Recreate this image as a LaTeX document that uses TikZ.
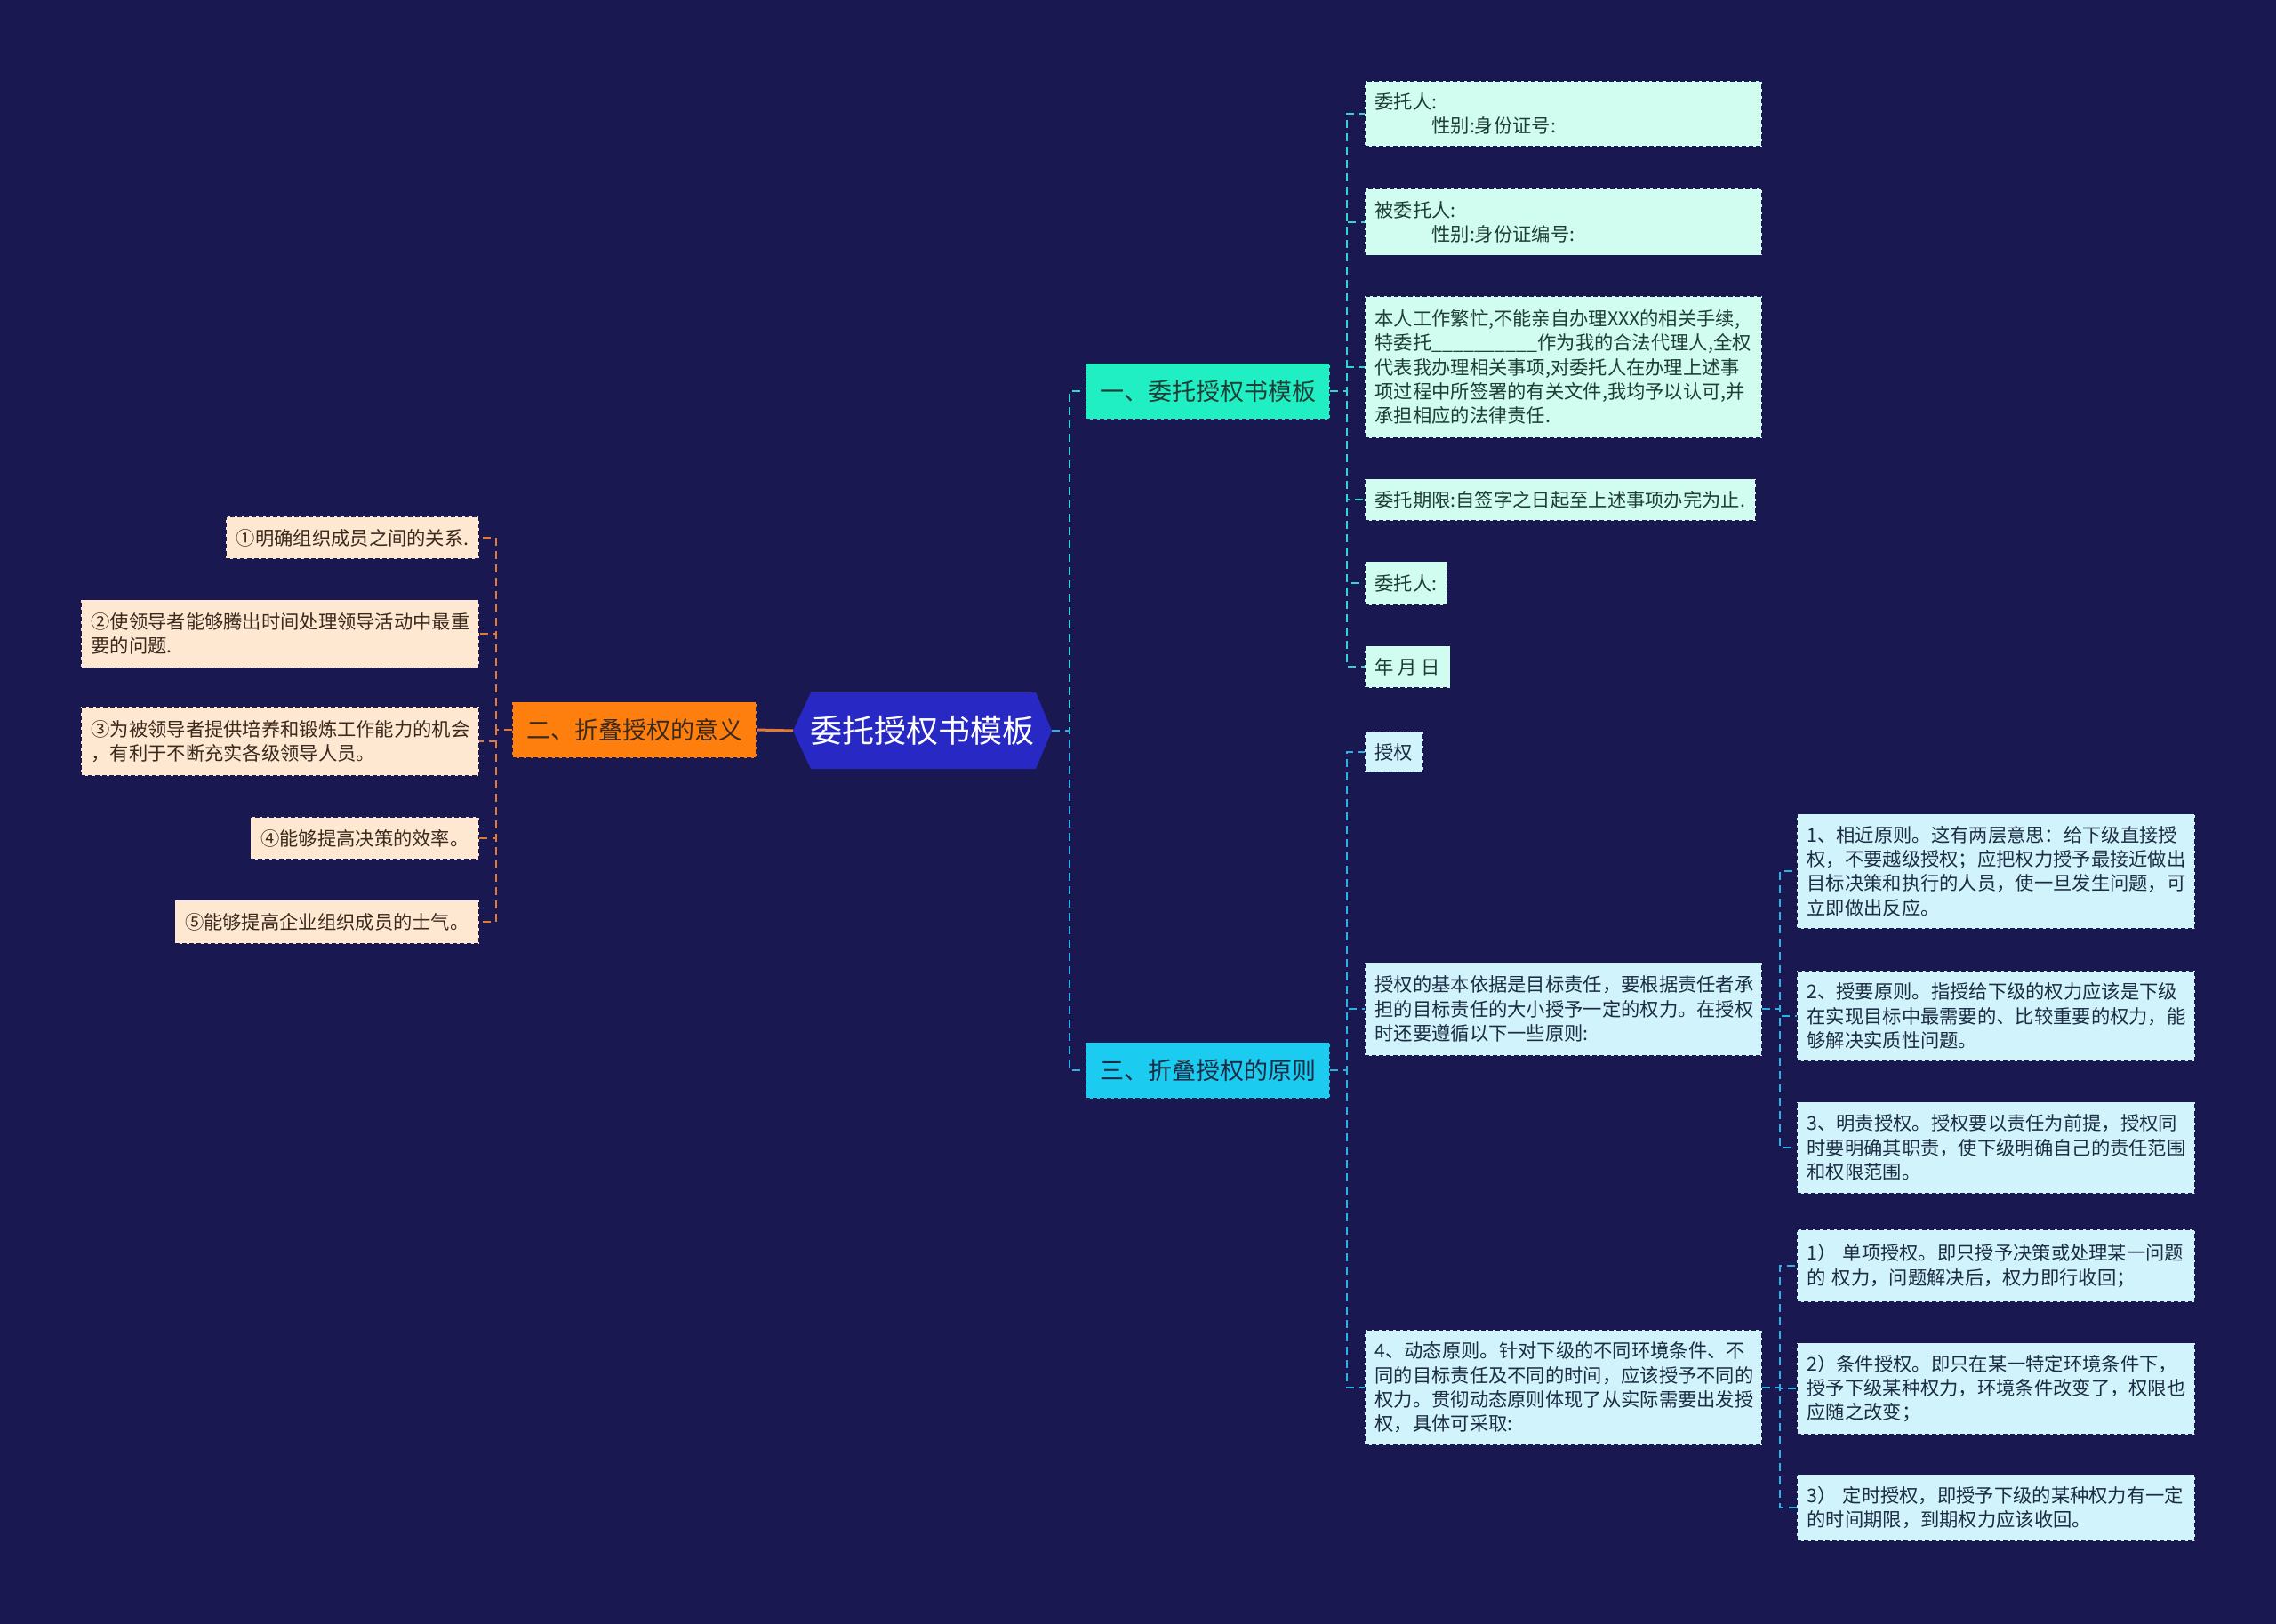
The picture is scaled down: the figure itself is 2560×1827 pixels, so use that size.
\documentclass[tikz,border=0pt]{standalone}
\usepackage{fontspec}
\setmainfont{Noto Sans CJK SC}
\pgfdeclarelayer{back}
\pgfsetlayers{back,main}
\definecolor{bgc}{HTML}{1A1850}
\definecolor{rootc}{HTML}{2828C4}
\definecolor{brA}{HTML}{1FEFC3}
\definecolor{brB}{HTML}{1BCBF0}
\definecolor{brC}{HTML}{FF7F0E}
\definecolor{lfA}{HTML}{D0FDF0}
\definecolor{lfB}{HTML}{D1F4FC}
\definecolor{lfC}{HTML}{FFE8D2}
\definecolor{lnA}{HTML}{33D6CC}
\definecolor{lnB}{HTML}{2AB4E6}
\definecolor{lnC}{HTML}{E27A32}
\definecolor{txA}{HTML}{1F3D36}
\definecolor{txB}{HTML}{1C2C44}
\definecolor{txC}{HTML}{3A2A1E}
\begin{document}
\begin{tikzpicture}[x=1pt,y=-1pt,
  every node/.style={inner sep=0pt, outer sep=0pt},
  box/.style={rectangle, inner xsep=11.5pt, inner ysep=5pt, align=left,
    draw=bgc, line width=1.3pt, dash pattern=on 5pt off 3pt,
    font=\fontsize{21.3}{27.3}\selectfont},
  leafA/.style={box, fill=lfA, text=txA},
  leafB/.style={box, fill=lfB, text=txB},
  leafC/.style={box, fill=lfC, text=txC},
  branch/.style={rectangle, draw=bgc, line width=1.3pt, dash pattern=on 5pt off 3pt,
    minimum width=275pt, minimum height=63pt, font=\fontsize{27}{32}\selectfont},
  branchA/.style={branch, fill=brA, text=txA},
  branchB/.style={branch, fill=brB, text=txB},
  branchC/.style={branch, fill=brC, text=txC},
  rootnode/.style={rectangle, minimum width=291pt, minimum height=86pt,
    font=\fontsize{36}{40}\selectfont, text=white},
  conn/.style={line width=2.5pt, dash pattern=on 9pt off 6pt},
  connA/.style={conn, draw=lnA},
  connB/.style={conn, draw=lnB},
  connC/.style={conn, draw=lnC},
]
\begin{pgfonlayer}{back}
\fill[bgc] (0,0) rectangle (2560,1827);
\end{pgfonlayer}
\useasboundingbox (0,0) rectangle (2560,1827);

% trunk positions
\coordinate (t0) at (1203,0);
\coordinate (t1) at (1515,0);
\coordinate (t2) at (558,0);
\coordinate (t4) at (2002,0);

% root
\node[rootnode] (root) at (1037.5,822) {委托授权书模板};
\begin{pgfonlayer}{back}
\fill[rootc] ([xshift=20pt]root.north west) -- ([xshift=-18pt]root.north east) -- (root.east)
  -- ([xshift=-18pt]root.south east) -- ([xshift=20pt]root.south west) -- (root.west) -- cycle;
\end{pgfonlayer}

% branches
\node[branchA, anchor=west] (b1) at (1221,440) {一、委托授权书模板};
\node[branchB, anchor=west] (b3) at (1221,1204) {三、折叠授权的原则};
\node[branchC, anchor=east] (b2) at (851,821) {二、折叠授权的意义};

% branch 1 children
\node[leafA, anchor=west, text width=424pt, minimum height=74pt] (c1) at (1535,128)
  {委托人:\\\hspace*{3em}性别:身份证号:};
\node[leafA, anchor=west, text width=424pt, minimum height=75pt] (c2) at (1535,250)
  {被委托人:\\\hspace*{3em}性别:身份证编号:};
\node[leafA, anchor=west, text width=424pt, minimum height=160pt] (c3) at (1535,413)
  {本人工作繁忙,不能亲自办理XXX的相关手续,\\特委托\_\_\_\_\_\_\_\_\_\_作为我的合法代理人,全权\\代表我办理相关事项,对委托人在办理上述事\\项过程中所签署的有关文件,我均予以认可,并\\承担相应的法律责任.};
\node[leafA, anchor=west, minimum height=47pt] (c4) at (1535,562)
  {委托期限:自签字之日起至上述事项办完为止.};
\node[leafA, anchor=west, minimum height=49pt] (c5) at (1535,656) {委托人:};
\node[leafA, anchor=west, minimum height=47pt] (c6) at (1535,750) {年 月 日};

% branch 3 children
\node[leafB, anchor=west, minimum height=46pt] (d1) at (1535,846) {授权};
\node[leafB, anchor=west, text width=424pt, minimum height=105pt] (d2) at (1535,1135)
  {授权的基本依据是目标责任，要根据责任者承\\担的目标责任的大小授予一定的权力。在授权\\时还要遵循以下一些原则:};
\node[leafB, anchor=west, text width=424pt, minimum height=130pt] (d3) at (1535,1561)
  {4、动态原则。针对下级的不同环境条件、不\\同的目标责任及不同的时间，应该授予不同的\\权力。贯彻动态原则体现了从实际需要出发授\\权，具体可采取:};

\node[leafB, anchor=west, text width=425pt, minimum height=129pt] (e1) at (2021,980)
  {1、相近原则。这有两层意思：给下级直接授\\权，不要越级授权；应把权力授予最接近做出\\目标决策和执行的人员，使一旦发生问题，可\\立即做出反应。};
\node[leafB, anchor=west, text width=425pt, minimum height=102pt] (e2) at (2021,1143)
  {2、授要原则。指授给下级的权力应该是下级\\在实现目标中最需要的、比较重要的权力，能\\够解决实质性问题。};
\node[leafB, anchor=west, text width=425pt, minimum height=103pt] (e3) at (2021,1291)
  {3、明责授权。授权要以责任为前提，授权同\\时要明确其职责，使下级明确自己的责任范围\\和权限范围。};
\node[leafB, anchor=west, text width=425pt, minimum height=82pt] (f1) at (2021,1424)
  {1） 单项授权。即只授予决策或处理某一问题\\的 权力，问题解决后，权力即行收回；};
\node[leafB, anchor=west, text width=425pt, minimum height=103pt] (f2) at (2021,1562)
  {2）条件授权。即只在某一特定环境条件下，\\授予下级某种权力，环境条件改变了，权限也\\应随之改变；};
\node[leafB, anchor=west, text width=425pt, minimum height=75pt] (f3) at (2021,1696)
  {3） 定时授权，即授予下级的某种权力有一定\\的时间期限，到期权力应该收回。};

% branch 2 children
\node[leafC, anchor=east, minimum height=48pt] (g1) at (539,605) {①明确组织成员之间的关系.};
\node[leafC, anchor=east, text width=425pt, minimum height=77pt] (g2) at (539,713)
  {②使领导者能够腾出时间处理领导活动中最重\\要的问题.};
\node[leafC, anchor=east, text width=425pt, minimum height=78pt] (g3) at (539,834)
  {③为被领导者提供培养和锻炼工作能力的机会\\，有利于不断充实各级领导人员。};
\node[leafC, anchor=east, minimum height=48pt] (g4) at (539,943) {④能够提高决策的效率。};
\node[leafC, anchor=east, minimum height=49pt] (g5) at (539,1037) {⑤能够提高企业组织成员的士气。};

% connectors: root
\draw[connA] (root.east) -- (root.east -| t0) |- (b1.west);
\draw[connB] (root.east) -- (root.east -| t0) |- (b3.west);
\draw[line width=3pt, draw=lnC] (root.west) -- (b2.east);

% branch 1
\foreach \c in {c1,c2,c3,c4,c5,c6}
  \draw[connA] (b1.east) -- (b1.east -| t1) |- (\c.west);
% branch 3
\foreach \c in {d1,d2,d3}
  \draw[connB] (b3.east) -- (b3.east -| t1) |- (\c.west);
\foreach \c in {e1,e2,e3}
  \draw[connB] (d2.east) -- (d2.east -| t4) |- (\c.west);
\foreach \c in {f1,f2,f3}
  \draw[connB] (d3.east) -- (d3.east -| t4) |- (\c.west);
% branch 2
\foreach \c in {g1,g2,g3,g4,g5}
  \draw[connC] (b2.west) -- (b2.west -| t2) |- (\c.east);
\end{tikzpicture}
\end{document}
